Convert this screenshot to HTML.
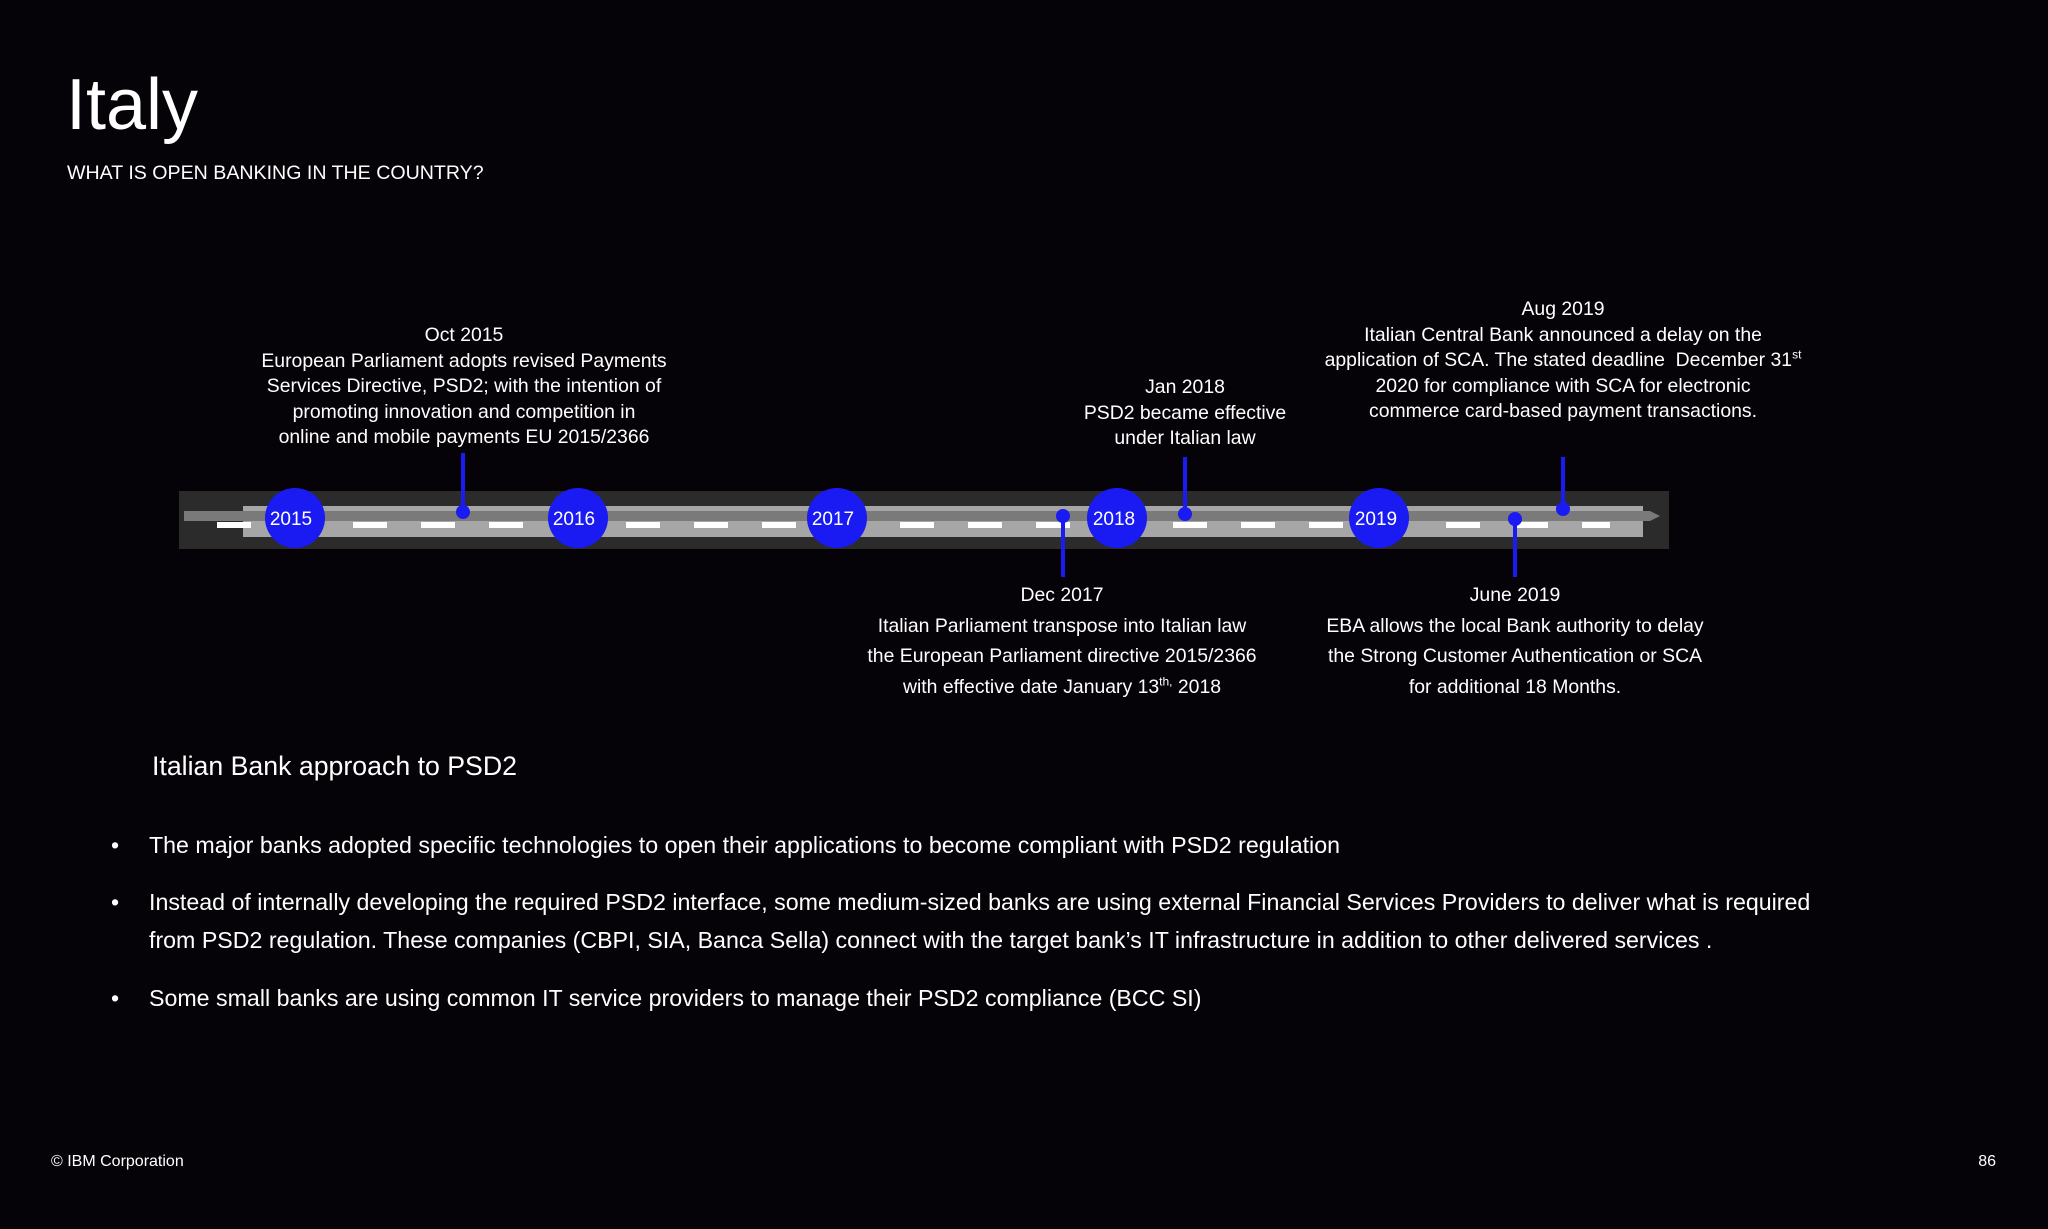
<!DOCTYPE html>
<html><head><meta charset="utf-8"><style>
html,body{margin:0;padding:0;background:#050307;}
body{width:2048px;height:1229px;position:relative;overflow:hidden;font-family:"Liberation Sans",sans-serif;color:#fff;}
.a{position:absolute;white-space:nowrap;}
.c{position:absolute;text-align:center;white-space:nowrap;font-size:19.4px;line-height:25.6px;transform:translateX(-50%);}
.c2{line-height:30.5px;}
sup{font-size:12px;line-height:0;}
.b{position:absolute;left:149px;font-size:23.2px;line-height:38px;white-space:nowrap;}
.b:before{content:"•";position:absolute;left:-38px;}
</style></head><body>
<div class="a" style="left:66px;top:65px;font-size:72px;line-height:80px;">Italy</div>
<div class="a" style="left:67px;top:162px;font-size:19.6px;">WHAT IS OPEN BANKING IN THE COUNTRY?</div>

<svg class="a" style="left:0;top:0" width="2048" height="1229">
<rect x="179" y="491" width="1490" height="58" fill="#2b2b2b"/>
<rect x="243" y="506" width="1400" height="31" fill="#a6a6a6"/>
<polygon points="184,511 1650,511 1660,516 1650,521 184,521" fill="#7a7a7a"/>
<g fill="#fff">
<rect x="217" y="522" width="34" height="6"/>
<rect x="353" y="522" width="34" height="6"/><rect x="421" y="522" width="34" height="6"/><rect x="489" y="522" width="34" height="6"/>
<rect x="626" y="522" width="34" height="6"/><rect x="694" y="522" width="34" height="6"/><rect x="762" y="522" width="34" height="6"/>
<rect x="900" y="522" width="34" height="6"/><rect x="968" y="522" width="34" height="6"/><rect x="1036" y="522" width="34" height="6"/>
<rect x="1173" y="522" width="34" height="6"/><rect x="1241" y="522" width="34" height="6"/><rect x="1309" y="522" width="34" height="6"/>
<rect x="1446" y="522" width="34" height="6"/><rect x="1514" y="522" width="34" height="6"/><rect x="1582" y="522" width="28" height="6"/>
</g>
<g fill="#1a1af2" stroke="#1a1af2" stroke-width="4">
<line x1="463" y1="453" x2="463" y2="512"/><circle cx="463" cy="512" r="5"/>
<line x1="1063" y1="516" x2="1063" y2="577"/><circle cx="1063" cy="516" r="5"/>
<line x1="1185" y1="457" x2="1185" y2="514"/><circle cx="1185" cy="514" r="5"/>
<line x1="1515" y1="519" x2="1515" y2="577"/><circle cx="1515" cy="519" r="5"/>
<line x1="1563" y1="457" x2="1563" y2="509"/><circle cx="1563" cy="509" r="5"/>
</g>
<g fill="#1a1af2">
<circle cx="295" cy="518" r="30"/><circle cx="578" cy="518" r="30"/><circle cx="837" cy="518" r="30"/><circle cx="1117" cy="518" r="30"/><circle cx="1379" cy="518" r="30"/>
</g>
<g fill="#fff" font-family="Liberation Sans,sans-serif" font-size="19" text-anchor="middle">
<text x="291" y="525">2015</text><text x="574" y="525">2016</text><text x="833" y="525">2017</text><text x="1114" y="525">2018</text><text x="1376" y="525">2019</text>
</g>
</svg>

<div class="c" style="left:464px;top:323px;">Oct 2015<br>European Parliament adopts revised Payments<br>Services Directive, PSD2; with the intention of<br>promoting innovation and competition in<br>online and mobile payments EU 2015/2366</div>
<div class="c" style="left:1185px;top:375px;">Jan 2018<br>PSD2 became effective<br>under Italian law</div>
<div class="c" style="left:1563px;top:297px;">Aug 2019<br>Italian Central Bank announced a delay on the<br>application of SCA. The stated deadline&nbsp; December 31<sup>st</sup><br>2020 for compliance with SCA for electronic<br>commerce card-based payment transactions.</div>
<div class="c c2" style="left:1062px;top:580px;">Dec 2017<br>Italian Parliament transpose into Italian law<br>the European Parliament directive 2015/2366<br>with effective date January 13<sup>th,</sup> 2018</div>
<div class="c c2" style="left:1515px;top:580px;">June 2019<br>EBA allows the local Bank authority to delay<br>the Strong Customer Authentication or SCA<br>for additional 18 Months.</div>

<div class="a" style="left:152px;top:751px;font-size:26.7px;">Italian Bank approach to PSD2</div>
<div class="b" style="top:826px;">The major banks adopted specific technologies to open their applications to become compliant with PSD2 regulation</div>
<div class="b" style="top:883px;">Instead of internally developing the required PSD2 interface, some medium-sized banks are using external Financial Services Providers to deliver what is required<br>from PSD2 regulation. These companies (CBPI, SIA, Banca Sella) connect with the target bank’s IT infrastructure in addition to other delivered services .</div>
<div class="b" style="top:979px;">Some small banks are using common IT service providers to manage their PSD2 compliance (BCC SI)</div>

<div class="a" style="left:51px;top:1153px;font-size:16px;">© IBM Corporation</div>
<div class="a" style="right:52px;top:1153px;font-size:16px;">86</div>
</body></html>
